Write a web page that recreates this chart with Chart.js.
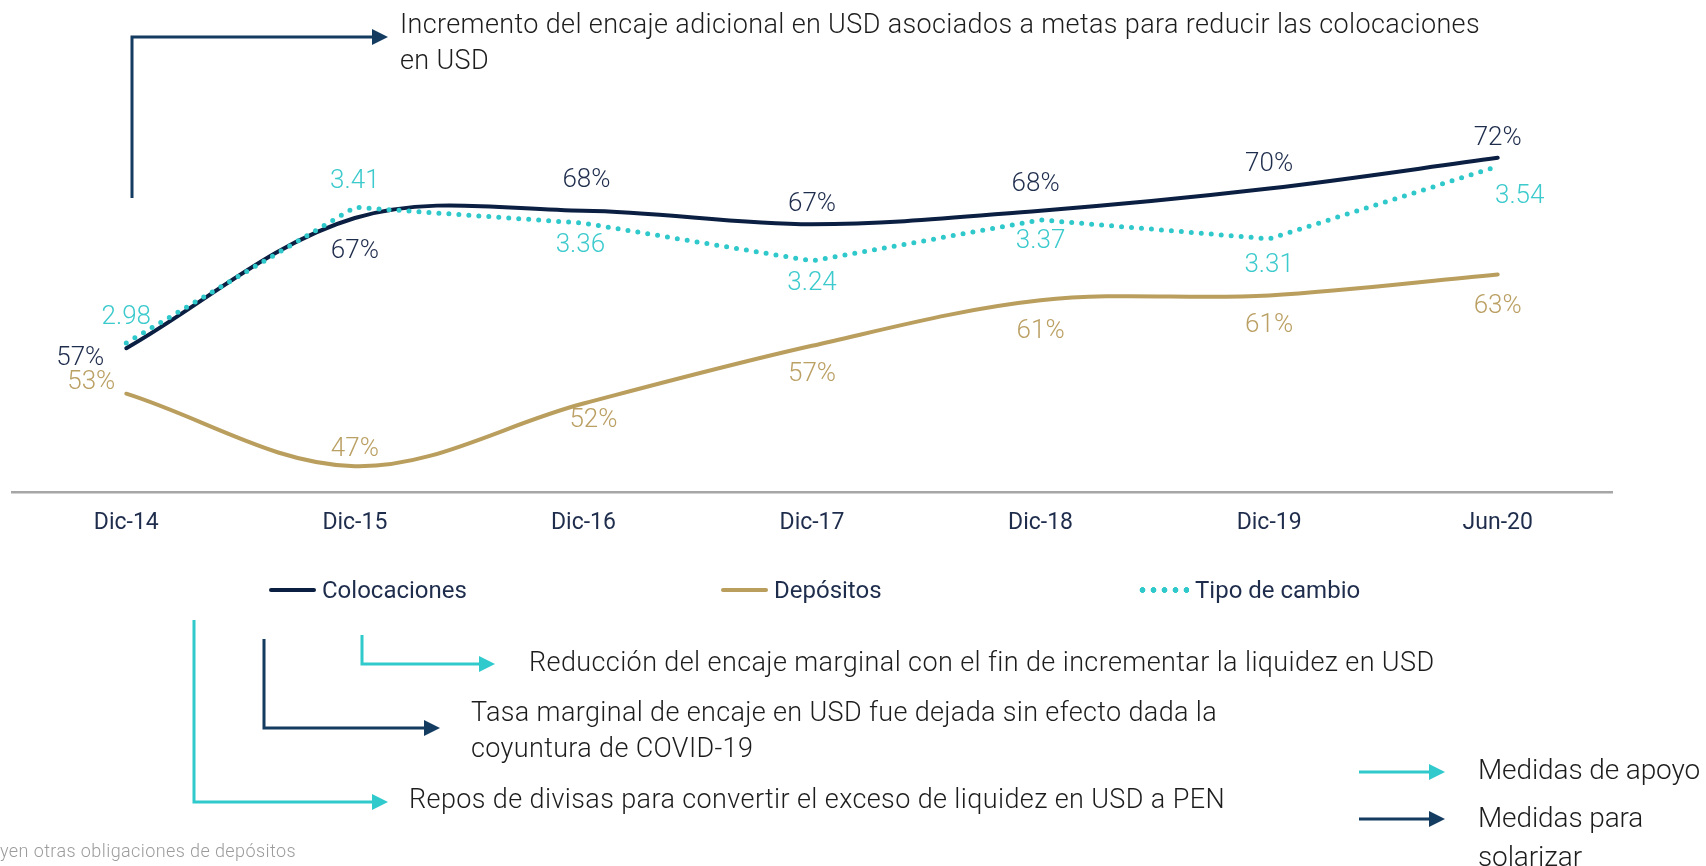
<!DOCTYPE html>
<html lang="es">
<head>
<meta charset="utf-8">
<title>Colocaciones, depósitos y tipo de cambio</title>
<script src="https://cdn.jsdelivr.net/npm/chart.js@4.4.1/dist/chart.umd.min.js"></script>
<style>
  html, body { margin: 0; padding: 0; background: #fff; overflow: hidden; }
  #wrap { position: relative; width: 1706px; height: 866px; font-family: Roboto, "Liberation Sans", sans-serif; }
  #chart { position: absolute; left: 0; top: 0; }
  svg.arrows { position: absolute; left: 0; top: 0; pointer-events: none; }
  .note { position: absolute; white-space: nowrap; height: 36px; line-height: 36px; font-size: 27px; font-weight: 300; color: #1d1d1d; }
  .note.big { font-size: 28px; }
  .note.foot { font-size: 18px; color: #9c9c9c; }
  .legend-item { position: absolute; top: 576px; height: 28px; display: flex; align-items: center; font-size: 24px; color: #1f2d4d; white-space: nowrap; }
  .legend-item .swatch { width: 47px; height: 4px; border-radius: 2px; margin-right: 6px; }
  .legend-item .swatch.dots { height: 6px; border-radius: 0; }
</style>
</head>
<body>
<div id="wrap">
  <canvas id="chart" width="1706" height="866"></canvas>

  <svg class="arrows" width="1706" height="866">
    <g fill="none" stroke-width="3">
      <path d="M132 198 V37 H374" stroke="#143b60"/>
      <path d="M194 620 V802 H374" stroke="#30c9cc"/>
      <path d="M264 639 V728 H426" stroke="#143b60"/>
      <path d="M362 635 V664 H481" stroke="#30c9cc"/>
      <path d="M1359 772 H1431" stroke="#30c9cc"/>
      <path d="M1359 819 H1431" stroke="#143b60"/>
    </g>
    <polygon points="372,29 388,37 372,45" fill="#143b60"/>
    <polygon points="372,794 388,802 372,810" fill="#30c9cc"/>
    <polygon points="424,720 440,728 424,736" fill="#143b60"/>
    <polygon points="479,656 495,664 479,672" fill="#30c9cc"/>
    <polygon points="1429,764 1445,772 1429,780" fill="#30c9cc"/>
    <polygon points="1429,811 1445,819 1429,827" fill="#143b60"/>
  </svg>

  <div class="note" style="left:400px; top:6px" data-w="1080">Incremento del encaje adicional en USD asociados a metas para reducir las colocaciones</div>
  <div class="note" style="left:400px; top:42px">en USD</div>
  <div class="note" style="left:529px; top:644px" data-w="905">Reducción del encaje marginal con el fin de incrementar la liquidez en USD</div>
  <div class="note" style="left:471px; top:694px" data-w="746">Tasa marginal de encaje en USD fue dejada sin efecto dada la</div>
  <div class="note" style="left:471px; top:730px">coyuntura de COVID-19</div>
  <div class="note" style="left:409px; top:781px" data-w="816">Repos de divisas para convertir el exceso de liquidez en USD a PEN</div>
  <div class="note big" style="left:1478px; top:752px" data-w="222">Medidas de apoyo</div>
  <div class="note big" style="left:1478px; top:800px">Medidas para</div>
  <div class="note big" style="left:1478px; top:839px">solarizar</div>
  <div class="note foot" style="left:0px; top:833px" data-w="296">yen otras obligaciones de depósitos</div>

  <div id="legend"></div>
</div>

<script>
const categories = ["Dic-14", "Dic-15", "Dic-16", "Dic-17", "Dic-18", "Dic-19", "Jun-20"];
const colocaciones = [56.7, 67.3, 67.9, 66.8, 67.9, 69.7, 72.2];
const depositos = [53.0, 47.1, 52.2, 56.9, 60.6, 61.0, 62.7];
const tipoCambio = [2.98, 3.41, 3.36, 3.24, 3.37, 3.31, 3.54];

// where each value label sits relative to its point (px)
const nudgeColocaciones = [[-46, 10], [0, 33], [3, -30], [0, -20], [-5, -26], [0, -24], [0, -19]];
const nudgeDepositos = [[-35, -11], [0, -17], [10, 17], [0, 29], [0, 31], [0, 30], [0, 32]];
const nudgeTipoCambio = [[0, -25], [0, -26], [-3, 22], [0, 23], [0, 22], [0, 27], [22, 30]];

const legendX = [269, 721, 1137];

const pct = v => Math.round(v) + "%";
const fx = v => v.toFixed(2);

const valueLabels = {
  id: "valueLabels",
  afterDatasetsDraw(chart) {
    const ctx = chart.ctx;
    chart.data.datasets.forEach((ds, di) => {
      const meta = chart.getDatasetMeta(di);
      ctx.save();
      ctx.font = "300 26px Roboto";
      ctx.fillStyle = ds.labelColor;
      ctx.textAlign = "center";
      ctx.textBaseline = "middle";
      meta.data.forEach((pt, i) => {
        const [dx, dy] = ds.nudge[i];
        ctx.fillText(ds.format(ds.data[i]), pt.x + dx, pt.y + dy);
      });
      ctx.restore();
    });
  }
};

const chart = new Chart(document.getElementById("chart"), {
  type: "line",
  data: {
    labels: categories,
    datasets: [
      {
        label: "Colocaciones",
        data: colocaciones,
        yAxisID: "y",
        borderColor: "#0b1f42",
        borderWidth: 4,
        tension: 0.35,
        pointRadius: 0,
        borderCapStyle: "round",
        order: 1,
        labelColor: "#1f2d4d",
        nudge: nudgeColocaciones,
        format: pct
      },
      {
        label: "Depósitos",
        data: depositos,
        yAxisID: "y",
        borderColor: "#b99e5e",
        borderWidth: 4,
        tension: 0.35,
        pointRadius: 0,
        borderCapStyle: "round",
        order: 2,
        labelColor: "#bba064",
        nudge: nudgeDepositos,
        format: pct
      },
      {
        label: "Tipo de cambio",
        data: tipoCambio,
        yAxisID: "y1",
        borderColor: "#2fc8cb",
        borderWidth: 5,
        borderDash: [0, 10],
        borderCapStyle: "round",
        tension: 0,
        pointRadius: 0,
        order: 0,
        labelColor: "#3ccacd",
        nudge: nudgeTipoCambio,
        format: fx
      }
    ]
  },
  options: {
    responsive: false,
    animation: false,
    layout: { padding: { left: 12, right: 94, top: 62, bottom: 0 } },
    plugins: { legend: { display: false }, tooltip: { enabled: false } },
    scales: {
      x: {
        offset: true,
        grid: { display: false },
        border: { display: true, color: "#a6a6a6", width: 2.5 },
        ticks: { color: "#1f2d4d", font: { family: "Roboto", size: 23 }, padding: 9 },
        afterFit: s => { s.height = 374; }
      },
      y: { display: false, min: 45, max: 80 },
      y1: { display: false, min: 2.507, max: 3.871 }
    }
  },
  plugins: [valueLabels]
});

// html legend built from the datasets
const legend = document.getElementById("legend");
chart.data.datasets.forEach((ds, i) => {
  const item = document.createElement("div");
  item.className = "legend-item";
  item.style.left = legendX[i] + "px";
  const sw = document.createElement("span");
  sw.className = "swatch";
  if (ds.borderDash && ds.borderDash.length) {
    sw.classList.add("dots");
    sw.style.width = "52px";
    sw.style.background = "radial-gradient(circle, " + ds.borderColor + " 2.6px, transparent 3.2px) 0 0 / 11px 6px repeat-x";
  } else {
    sw.style.background = ds.borderColor;
  }
  item.appendChild(sw);
  item.appendChild(document.createTextNode(ds.label));
  legend.appendChild(item);
});

// squeeze the notes to the widths they take in the original
let lastLs = 0;
document.querySelectorAll(".note").forEach(el => {
  if (el.dataset.w) {
    el.style.letterSpacing = "0px";
    const w = el.getBoundingClientRect().width;
    lastLs = (parseFloat(el.dataset.w) - w) / el.textContent.length;
  }
  el.style.letterSpacing = lastLs + "px";
});
</script>
</body>
</html>
